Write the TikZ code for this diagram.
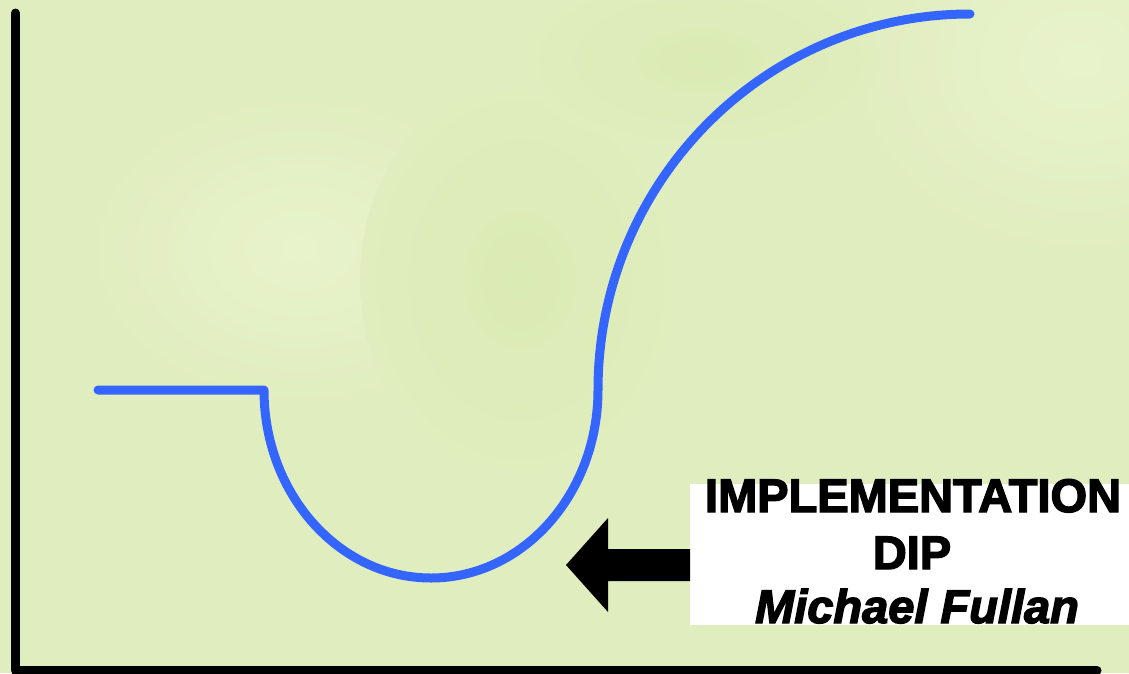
\documentclass[tikz,border=0pt]{standalone}
\usepackage{fontspec}
\newfontfamily\capfont[FakeBold=3]{Liberation Sans Bold}
\newfontfamily\capitfont[FakeBold=3]{Liberation Sans Bold Italic}
\definecolor{bggreen}{RGB}{224,237,190}
\definecolor{bglight}{RGB}{232,243,204}
\definecolor{bgdark}{RGB}{219,235,180}
\definecolor{curveblue}{RGB}{52,102,255}
\tikzset{
  axisline/.style={line width=9pt, line cap=round, line join=round, black},
  curveline/.style={line width=9pt, line cap=round, line join=round, curveblue},
  labelbox/.style={fill=white, draw=none, inner sep=0pt, minimum width=445pt, minimum height=141pt, anchor=north west},
  capline/.style={anchor=base, inner sep=0pt, font=\capfont\fontsize{47}{56}\selectfont},
  itline/.style={anchor=base, inner sep=0pt, font=\capitfont\fontsize{47}{56}\selectfont},
}
\begin{document}
\begin{tikzpicture}[x=1pt,y=-1pt]
\useasboundingbox (0,0) rectangle (1129,673);
% background
\fill[bggreen] (0,0) rectangle (1129,673);
\begin{scope}
\clip (0,0) rectangle (1129,673);
\shade[inner color=bglight, outer color=bggreen] (1080,60) ellipse (240 and 200);
\shade[inner color=bglight, outer color=bggreen] (300,250) ellipse (220 and 160);
\shade[inner color=bgdark, outer color=bggreen] (520,280) ellipse (160 and 200);
\shade[inner color=bgdark, outer color=bggreen] (700,60) ellipse (180 and 90);
\end{scope}
% axes
\coordinate (ytop) at (15.5,13);
\coordinate (origin) at (15.5,670.5);
\coordinate (xend) at (1097,670.5);
\draw[axisline] (ytop) -- (origin) -- (xend);
% curve
\coordinate (start) at (98,390);
\coordinate (drop) at (264,390);
\coordinate (bottom) at (431,578);
\coordinate (rise) at (598,390);
\coordinate (top) at (970,14);
\draw[curveline] (start) -- (drop)
  .. controls (264,493.8) and (338.8,578) .. (bottom)
  .. controls (523.2,578) and (598,493.8) .. (rise)
  .. controls (598,182.3) and (764.5,14) .. (top);
% label box
\node[labelbox] (box) at (690,484) {};
\node[capline] (l1) at (913,512) {IMPLEMENTATION};
\node[capline] (l2) at (912,569) {DIP};
\node[itline] (l3) at (917,623) {Michael Fullan};
% arrow
\fill[black] (566,565) -- (608,518) -- (608,549) -- (690,549) -- (690,581) -- (608,581) -- (608,612) -- cycle;
\end{tikzpicture}
\end{document}
